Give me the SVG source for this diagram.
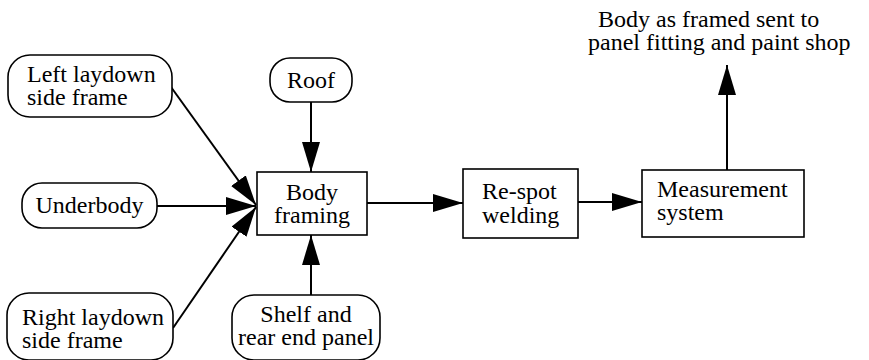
<svg xmlns="http://www.w3.org/2000/svg" width="869" height="360" viewBox="0 0 869 360">
<defs>
<style>
.n{fill:#fff;stroke:#000;stroke-width:1.6}
.t{font-family:"Liberation Serif","Times New Roman","DejaVu Serif",serif;font-size:24px;fill:#000}
.c{stroke:#000;stroke-width:2;fill:none}
</style>
<marker id="ah" markerUnits="userSpaceOnUse" markerWidth="32" markerHeight="20" refX="30" refY="9" orient="auto">
<path d="M0,0 L30,9 L0,18 Z" fill="#000"/>
</marker>
</defs>
<rect width="869" height="360" fill="#fff"/>
<g id="connectors">
<line class="c" x1="171" y1="87" x2="256" y2="205" marker-end="url(#ah)"/>
<line class="c" x1="157" y1="206" x2="256" y2="206" marker-end="url(#ah)"/>
<line class="c" x1="173" y1="328" x2="256" y2="207" marker-end="url(#ah)"/>
<line class="c" x1="311" y1="102" x2="311" y2="172" marker-end="url(#ah)"/>
<line class="c" x1="311" y1="295" x2="311" y2="235" marker-end="url(#ah)"/>
<line class="c" x1="367" y1="203" x2="463" y2="203" marker-end="url(#ah)"/>
<line class="c" x1="578" y1="202" x2="642" y2="202" marker-end="url(#ah)"/>
<line class="c" x1="727" y1="170" x2="727" y2="65" marker-end="url(#ah)"/>
</g>
<g id="left-laydown">
<rect class="n" x="8" y="55" width="164" height="62" rx="22"/>
<text class="t" x="27" y="82">Left laydown</text>
<text class="t" x="27" y="105">side frame</text>
</g>
<g id="underbody">
<rect class="n" x="22" y="183" width="135" height="45" rx="20"/>
<text class="t" x="89.5" y="213" text-anchor="middle">Underbody</text>
</g>
<g id="right-laydown">
<rect class="n" x="7" y="293" width="166" height="67" rx="22"/>
<text class="t" x="22" y="325">Right laydown</text>
<text class="t" x="22" y="348">side frame</text>
</g>
<g id="roof">
<rect class="n" x="270" y="58" width="82" height="44" rx="20"/>
<text class="t" x="311" y="88" text-anchor="middle">Roof</text>
</g>
<g id="shelf">
<rect class="n" x="232" y="295" width="148" height="65" rx="22"/>
<text class="t" x="306" y="322" text-anchor="middle">Shelf and</text>
<text class="t" x="306" y="345" text-anchor="middle">rear end panel</text>
</g>
<g id="body-framing">
<rect class="n" x="257" y="172" width="110" height="63"/>
<text class="t" x="312" y="200" text-anchor="middle">Body</text>
<text class="t" x="312" y="223" text-anchor="middle">framing</text>
</g>
<g id="re-spot">
<rect class="n" x="463" y="169" width="115" height="69"/>
<text class="t" x="482" y="199">Re-spot</text>
<text class="t" x="482" y="223">welding</text>
</g>
<g id="measurement">
<rect class="n" x="642" y="170" width="162" height="67"/>
<text class="t" x="657" y="197">Measurement</text>
<text class="t" x="657" y="220">system</text>
</g>
<g id="output-label">
<text class="t" x="598" y="27">Body as framed sent to</text>
<text class="t" x="588" y="50">panel fitting and paint shop</text>
</g>
</svg>
